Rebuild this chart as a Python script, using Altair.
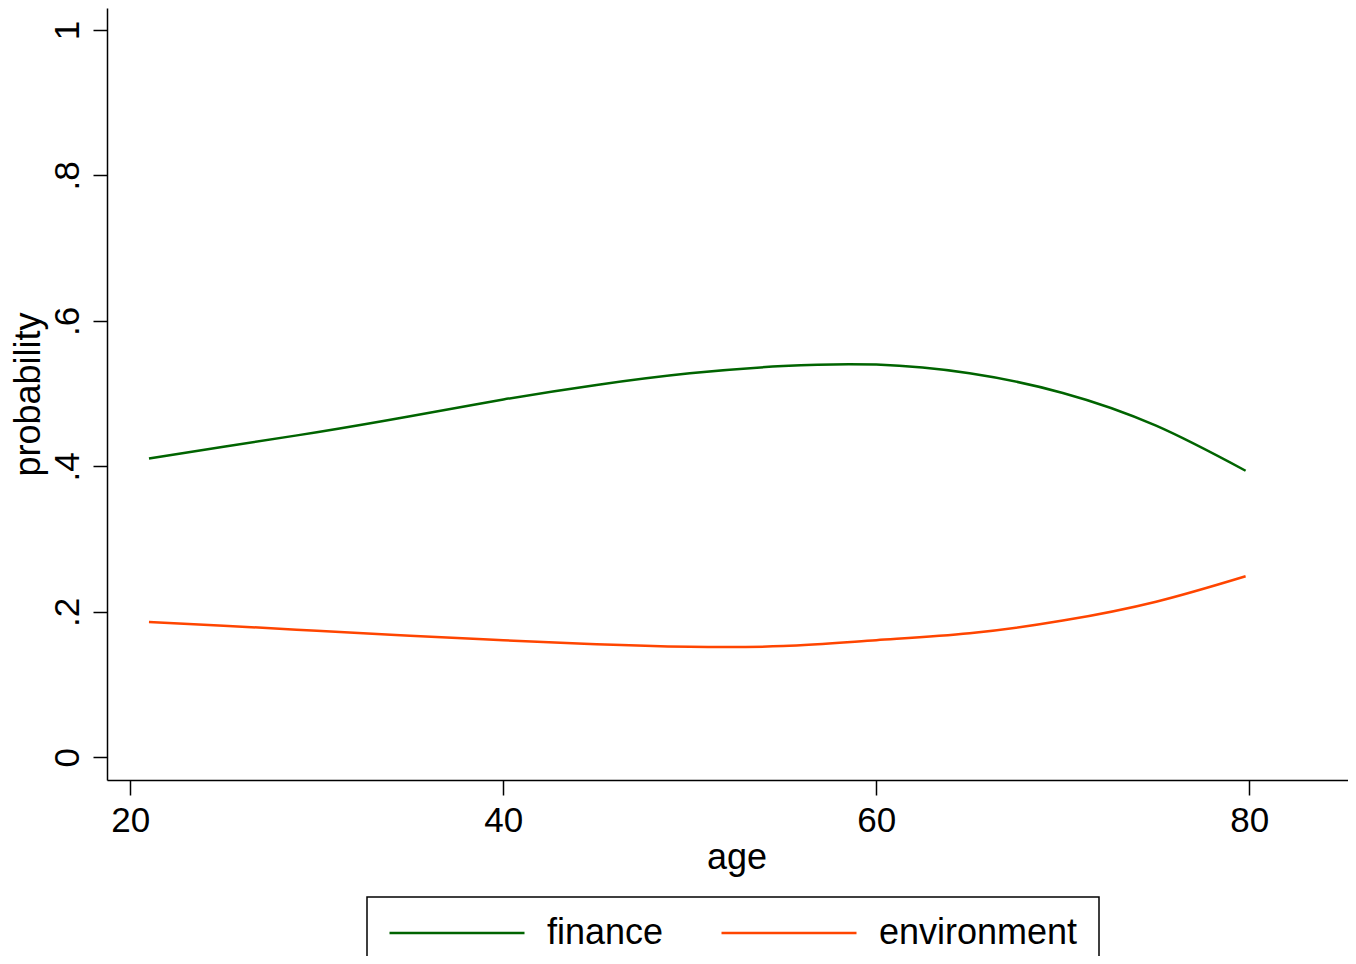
import altair as alt
import pandas as pd

# Data
ages = [21, 25, 30, 35, 40, 45, 50, 55, 60, 65, 70, 75, 79.8]
finance = [0.411, 0.427, 0.447, 0.469, 0.492, 0.512, 0.528, 0.538, 0.540, 0.528, 0.501, 0.456, 0.394]
environment = [0.186, 0.181, 0.174, 0.167, 0.161, 0.1555, 0.152, 0.153, 0.161, 0.1705, 0.188, 0.214, 0.249]

series_names = ["finance", "environment"]
series_colors = ["#006400", "#FF4500"]
x_ticks = [20, 40, 60, 80]
y_ticks = [0, 0.2, 0.4, 0.6, 0.8, 1]

rows = []
for a, f in zip(ages, finance):
    rows.append({"age": a, "probability": f, "series": "finance"})
for a, e in zip(ages, environment):
    rows.append({"age": a, "probability": e, "series": "environment"})
df = pd.DataFrame(rows)

FONT = "Liberation Sans"

chart = (
    alt.Chart(df)
    .mark_line(strokeWidth=2.5, interpolate="natural")
    .encode(
        x=alt.X(
            "age:Q",
            scale=alt.Scale(domain=[18.75, 85.29], nice=False, zero=False),
            axis=alt.Axis(
                values=x_ticks,
                title="age",
                grid=False,
                domainColor="black",
                domainWidth=1.5,
                tickColor="black",
                tickWidth=1.5,
                tickSize=15,
                labelFont=FONT,
                labelFontSize=35,
                labelColor="black",
                labelBaseline="alphabetic",
                labelPadding=36,
                labelFlush=False,
                titleFont=FONT,
                titleFontSize=36,
                titleFontWeight="normal",
                titleColor="black",
                titleBaseline="alphabetic",
                titleAlign="center",
                titleX=629.5,
                titleY=88,
            ),
        ),
        y=alt.Y(
            "probability:Q",
            scale=alt.Scale(domain=[-0.0312, 1.0303], nice=False, zero=False),
            axis=alt.Axis(
                values=y_ticks,
                title="probability",
                grid=False,
                labelExpr="datum.value == 0 ? '0' : datum.value == 1 ? '1' : '.' + format(datum.value * 10, 'd')",
                domainColor="black",
                domainWidth=1.5,
                tickColor="black",
                tickWidth=1.5,
                tickSize=14,
                labelFont=FONT,
                labelFontSize=35,
                labelColor="black",
                labelAngle=270,
                labelAlign="center",
                labelBaseline="alphabetic",
                labelPadding=15,
                labelOverlap=False,
                titleFont=FONT,
                titleFontSize=36,
                titleFontWeight="normal",
                titleColor="black",
                titleAngle=270,
                titleAlign="center",
                titleBaseline="alphabetic",
                titleX=-68,
                titleY=386,
            ),
        ),
        color=alt.Color(
            "series:N",
            scale=alt.Scale(domain=series_names, range=series_colors),
            legend=alt.Legend(
                title=None,
                orient="none",
                legendX=260,
                legendY=889,
                direction="horizontal",
                symbolType="stroke",
                symbolSize=18225,
                symbolStrokeWidth=2.5,
                labelFont=FONT,
                labelFontSize=36,
                labelColor="black",
                labelBaseline="middle",
                labelOffset=21,
                labelLimit=500,
                columnPadding=56,
                padding=21,
                clipHeight=30,
                fillColor="white",
            ),
        ),
    )
    .properties(
        width=1241,
        height=772,
        autosize=alt.AutoSizeParams(type="none"),
        padding={"left": 99, "top": 0, "right": 0, "bottom": 176},
        background="white",
    )
    .configure_view(stroke=None)
    .configure_legend(strokeColor="black", strokeWidth=1.5)
)

chart.save("out.html", embed_options={"renderer": "svg", "actions": False})
